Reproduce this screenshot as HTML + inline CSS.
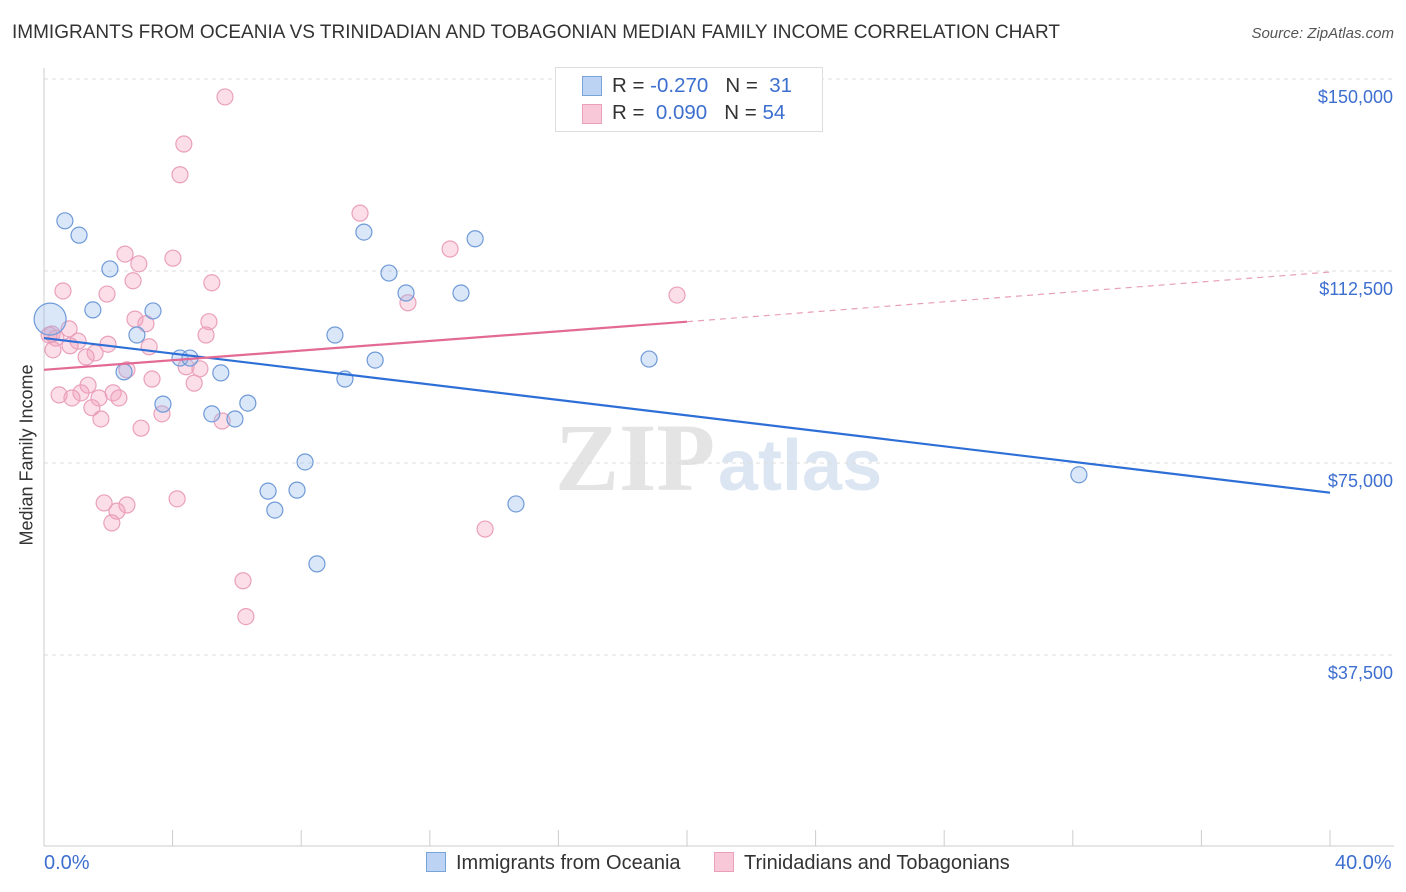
<!DOCTYPE html>
<html><head><meta charset="utf-8">
<style>
body{margin:0;background:#fff;font-family:"Liberation Sans",sans-serif;}
#wrap{position:relative;width:1406px;height:892px;overflow:hidden;}
.t{position:absolute;white-space:nowrap;}
</style></head><body>
<div id="wrap">
<div class="t" style="left:12px;top:22px;font-size:19px;color:#333;">IMMIGRANTS FROM OCEANIA VS TRINIDADIAN AND TOBAGONIAN MEDIAN FAMILY INCOME CORRELATION CHART</div>
<div class="t" style="right:12px;top:25px;font-size:15px;color:#555;font-style:italic;">Source: ZipAtlas.com</div>
<svg id="svg" width="1406" height="892" style="position:absolute;left:0;top:0"></svg>
</div>
<script>
const blueX=[0.19,0.65,1.09,2.05,1.52,3.39,2.89,2.49,4.23,4.54,5.5,3.7,5.22,5.94,6.34,6.97,7.18,7.87,8.12,8.49,9.05,9.36,9.95,10.3,10.73,11.26,12.97,13.41,14.68,18.82,32.19];
const blueY=[103100,122300,119500,112900,104900,104700,100000,92800,95500,95500,92600,86500,84600,83600,86700,69500,65800,69700,75200,55300,100000,91400,120100,95100,112100,108200,108200,118800,67000,95300,72700];
const pinkX=[5.63,4.35,4.23,9.83,12.63,2.52,4.01,2.95,2.77,5.22,0.59,1.96,19.69,11.32,2.83,3.17,5.13,0.16,0.37,0.78,5.04,1.06,0.28,1.99,3.27,1.59,1.31,4.42,4.85,2.58,3.36,4.67,1.37,0.47,1.15,0.87,1.71,2.15,2.33,1.49,3.67,1.77,5.54,3.02,4.14,1.87,2.58,2.27,2.11,13.72,6.19,6.28,0.25,0.81];
const pinkY=[146500,137300,131300,123800,116800,115800,115000,113900,110600,110200,108600,108000,107800,106300,103100,102200,102600,100000,99400,101200,100000,98800,97100,98200,97700,96500,95700,93800,93400,93200,91400,90600,90200,88300,88700,87700,87700,88700,87700,85800,84600,83600,83200,81800,68000,67200,66800,65600,63300,62100,52000,45000,100200,97900];
const blueTrend=[[0,99400],[40,69200]];
const pinkTrend=[[0,93200],[20,102600],[40,112300]];
const yTicks=[150000,112500,75000,37500];
const yTickLabels=["$150,000","$112,500","$75,000","$37,500"];

const X0=44,X1=1330,Y0=847;
const sx=p=>X0+(p/40)*(X1-X0);
const sy=v=>Y0-v/37500*192;
const svg=document.getElementById('svg');
const NS='http://www.w3.org/2000/svg';
function mk(tag,at){const e=document.createElementNS(NS,tag);for(const k in at)e.setAttribute(k,at[k]);svg.appendChild(e);return e;}

let w=mk('text',{x:555,y:490,'font-size':96,'font-family':'Liberation Serif',fill:'#e4e4e4','font-weight':'bold'});w.textContent='ZIP';


let w2=mk('text',{x:718,y:490,'font-size':72,'font-family':'Liberation Sans',fill:'#dce6f3','font-weight':'bold'});w2.textContent='atlas';



yTicks.forEach((v,i)=>{
  const y=sy(v);
  const g=mk('line',{x1:X0,x2:1394,y1:y,y2:y,stroke:'#ddd','stroke-dasharray':'4,4'});
  
  
  const t=mk('text',{x:1393,y:y+24,'text-anchor':'end','font-size':18,fill:'#3d6fcf'});t.textContent=yTickLabels[i];
  
  
});
let ax=mk('line',{x1:X0,x2:X0,y1:68,y2:846,stroke:'#ccc'});


let bx=mk('line',{x1:X0,x2:1394,y1:846,y2:846,stroke:'#ccc'});


for(let i=0;i<=10;i++){const x=sx(i*4);const tk=mk('line',{x1:x,x2:x,y1:830,y2:846,stroke:'#ccc'});

}

function pt(x,y,fill,stroke,r,name){const c=mk('circle',{cx:sx(x),cy:sy(y),r:r,fill:fill,stroke:stroke,'stroke-width':1.2});

}
pinkX.forEach((x,i)=>pt(x,pinkY[i],'rgba(244,160,190,0.35)','#eaa0bb',8,'point-trinidadian'));
blueX.forEach((x,i)=>pt(x,blueY[i],'rgba(150,185,235,0.35)','#6f9ad8',i==0?16:8,'point-oceania'));

let bl=mk('line',{x1:sx(blueTrend[0][0]),y1:sy(blueTrend[0][1]),x2:sx(blueTrend[1][0]),y2:sy(blueTrend[1][1]),stroke:'#2d6fd6','stroke-width':2.2});


let pl=mk('line',{x1:sx(pinkTrend[0][0]),y1:sy(pinkTrend[0][1]),x2:sx(pinkTrend[1][0]),y2:sy(pinkTrend[1][1]),stroke:'#e36a95','stroke-width':2.2});


let pd=mk('line',{x1:sx(pinkTrend[1][0]),y1:sy(pinkTrend[1][1]),x2:sx(pinkTrend[2][0]),y2:sy(pinkTrend[2][1]),stroke:'#e8a0b8','stroke-width':1.2,'stroke-dasharray':'6,5'});


</script>
<div class="t" style="left:27px;top:455px;font-size:18px;color:#333;transform:translate(-50%,-50%) rotate(-90deg);">Median Family Income</div>
<div class="t" style="left:44px;top:852px;font-size:20px;color:#3d6fcf;">0.0%</div>
<div class="t" style="left:1335px;top:852px;font-size:20px;color:#3d6fcf;">40.0%</div>
<div style="position:absolute;left:555px;top:67px;width:266px;height:63px;border:1px solid #ddd;background:#fff;font-size:20.5px;color:#333;">
 <div style="position:absolute;left:26px;top:8px;width:18px;height:18px;background:#bcd3f3;border:1px solid #7aa3dc;"></div>
 <div class="t" style="left:56px;top:6px;">R = <span style="color:#3d6fcf">-0.270</span>&nbsp;&nbsp;&nbsp;N = &nbsp;<span style="color:#3d6fcf">31</span></div>
 <div style="position:absolute;left:26px;top:36px;width:18px;height:18px;background:#f9c8d8;border:1px solid #eaa0bb;"></div>
 <div class="t" style="left:56px;top:33px;">R = &nbsp;<span style="color:#3d6fcf">0.090</span>&nbsp;&nbsp;&nbsp;N = <span style="color:#3d6fcf">54</span></div>
</div>
<div style="position:absolute;left:426px;top:852px;font-size:20px;color:#333;">
 <span style="display:inline-block;width:18px;height:18px;background:#bcd3f3;border:1px solid #7aa3dc;vertical-align:-3px;margin-right:10px;"></span>Immigrants from Oceania</div>
<div style="position:absolute;left:714px;top:852px;font-size:20px;color:#333;">
 <span style="display:inline-block;width:18px;height:18px;background:#f9c8d8;border:1px solid #eaa0bb;vertical-align:-3px;margin-right:10px;"></span>Trinidadians and Tobagonians</div>
</body></html>
